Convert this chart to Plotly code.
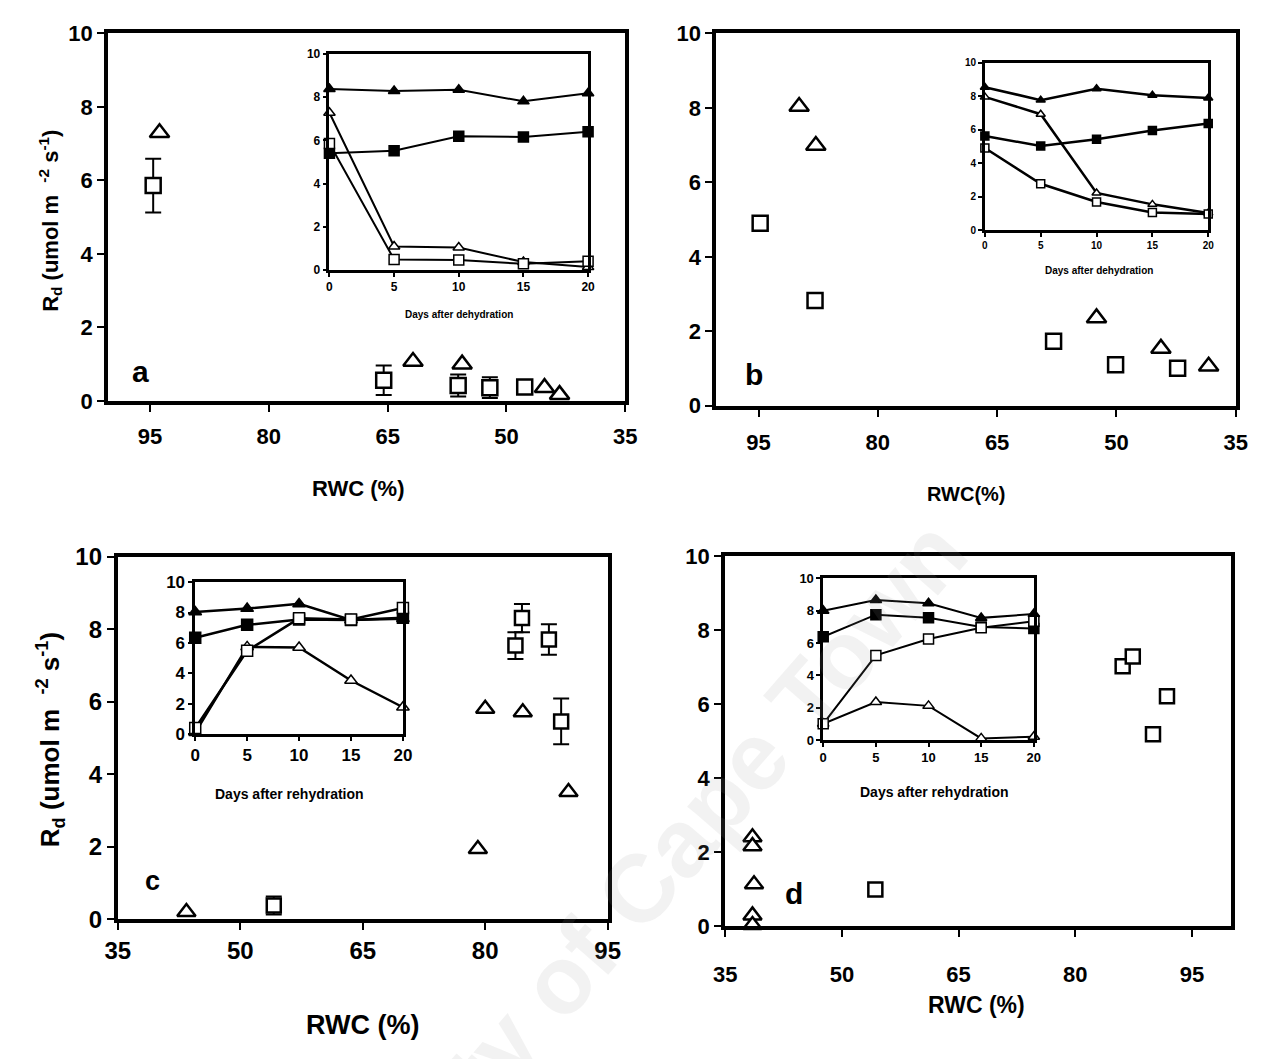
import plotly.graph_objects as go

W, H = 1281, 1059
FONT = "Liberation Sans"

# ---------------- data ----------------
days = [0, 5, 10, 15, 20]

# panel a (dehydration)
a_sq_rwc = [94.6, 65.5, 56.1, 52.1, 47.7]
a_sq_rd = [5.86, 0.56, 0.42, 0.36, 0.38]
a_sq_err = [0.73, 0.40, 0.30, 0.28, 0.0]
a_tri_rwc = [93.8, 61.8, 55.6, 45.2, 43.3]
a_tri_rd = [7.30, 1.07, 1.00, 0.36, 0.17]
a_in_tri_f = [8.38, 8.29, 8.35, 7.81, 8.18]
a_in_sq_f = [5.41, 5.53, 6.20, 6.16, 6.40]
a_in_tri_o = [7.28, 1.10, 1.05, 0.38, 0.15]
a_in_sq_o = [5.86, 0.50, 0.47, 0.30, 0.42]

# panel b (dehydration)
b_sq_rwc = [94.8, 87.9, 57.9, 50.1, 42.3]
b_sq_rd = [4.90, 2.83, 1.73, 1.10, 1.01]
b_tri_rwc = [89.9, 87.8, 52.5, 44.4, 38.4]
b_tri_rd = [8.04, 6.99, 2.36, 1.54, 1.06]
b_in_tri_f = [8.54, 7.77, 8.45, 8.06, 7.90]
b_in_sq_f = [5.63, 5.03, 5.44, 5.96, 6.37]
b_in_tri_o = [7.96, 6.93, 2.23, 1.55, 1.03]
b_in_sq_o = [4.91, 2.78, 1.69, 1.07, 0.97]

# panel c (rehydration)
c_sq_rwc = [54.1, 84.5, 83.7, 87.8, 89.3]
c_sq_rd = [0.38, 8.31, 7.55, 7.72, 5.46]
c_sq_err = [0.25, 0.39, 0.37, 0.42, 0.63]
c_tri_rwc = [43.4, 80.0, 84.6, 90.2, 79.1]
c_tri_rd = [0.20, 5.81, 5.71, 3.51, 1.94]
c_in_tri_f = [8.04, 8.26, 8.57, 7.51, 7.60]
c_in_sq_f = [6.34, 7.19, 7.55, 7.51, 7.66]
c_in_tri_o = [0.10, 5.74, 5.70, 3.53, 1.77]
c_in_sq_o = [0.40, 5.49, 7.62, 7.55, 8.30]

# panel d (rehydration)
d_sq_rwc = [54.3, 86.1, 87.4, 91.8, 90.0]
d_sq_rd = [0.99, 7.02, 7.28, 6.21, 5.18]
d_tri_rwc = [38.5, 38.5, 38.7, 38.5, 38.5]
d_tri_rd = [2.40, 2.16, 1.13, 0.29, 0.03]
d_in_tri_f = [7.99, 8.65, 8.45, 7.55, 7.79]
d_in_sq_f = [6.38, 7.75, 7.55, 6.98, 6.90]
d_in_tri_o = [1.00, 2.35, 2.11, 0.10, 0.20]
d_in_sq_o = [1.00, 5.23, 6.24, 6.94, 7.34]

rwc_ticks = [35, 50, 65, 80, 95]
rd_ticks = [0, 2, 4, 6, 8, 10]
day_ticks = [0, 5, 10, 15, 20]


def px_dom_x(a, b):
    return [a / W, b / W]


def px_dom_y(top, bottom):
    return [1 - bottom / H, 1 - top / H]


fig = go.Figure()


def main_points(xa, ya, sq_x, sq_y, tri_x, tri_y, sq_err=None, msize=17):
    err = None
    if sq_err is not None:
        err = dict(type="data", array=sq_err, color="black", thickness=2, width=8)
    fig.add_trace(go.Scatter(x=sq_x, y=sq_y, mode="markers", xaxis=xa, yaxis=ya,
                             error_y=err, cliponaxis=False,
                             marker=dict(symbol="square", size=msize - 2, color="white",
                                         line=dict(color="black", width=2.5))))
    fig.add_trace(go.Scatter(x=tri_x, y=tri_y, mode="markers", xaxis=xa, yaxis=ya,
                             cliponaxis=False,
                             marker=dict(symbol="triangle-up", size=msize, color="white",
                                         line=dict(color="black", width=2.5))))


def inset_lines(xa, ya, tf, sf, to, so, ms=9, lw=2):
    for vals, sym, col in [(tf, "triangle-up", "black"), (sf, "square", "black"),
                           (to, "triangle-up", "white"), (so, "square", "white")]:
        fig.add_trace(go.Scatter(x=days, y=vals, mode="lines+markers", xaxis=xa, yaxis=ya,
                                 cliponaxis=False,
                                 line=dict(color="black", width=lw),
                                 marker=dict(symbol=sym, size=ms, color=col,
                                             line=dict(color="black", width=1.5))))


main_points("x", "y", a_sq_rwc, a_sq_rd, a_tri_rwc, a_tri_rd, a_sq_err)
inset_lines("x2", "y2", a_in_tri_f, a_in_sq_f, a_in_tri_o, a_in_sq_o, ms=10)
main_points("x3", "y3", b_sq_rwc, b_sq_rd, b_tri_rwc, b_tri_rd)
inset_lines("x4", "y4", b_in_tri_f, b_in_sq_f, b_in_tri_o, b_in_sq_o, ms=8, lw=2.5)
main_points("x5", "y5", c_sq_rwc, c_sq_rd, c_tri_rwc, c_tri_rd, c_sq_err, msize=16)
inset_lines("x6", "y6", c_in_tri_f, c_in_sq_f, c_in_tri_o, c_in_sq_o, ms=11, lw=2.5)
main_points("x7", "y7", d_sq_rwc, d_sq_rd, d_tri_rwc, d_tri_rd, msize=16)
inset_lines("x8", "y8", d_in_tri_f, d_in_sq_f, d_in_tri_o, d_in_sq_o, ms=10, lw=2)


def main_axes(dx, dy, xrange, tsize=22, xstand=0):
    xa = dict(domain=dx, range=xrange, tickvals=rwc_ticks, showline=True, linewidth=4,
              linecolor="black", mirror=True, ticks="outside", ticklen=7, tickwidth=2,
              tickcolor="black", showgrid=False, zeroline=False, ticklabelstandoff=xstand,
              tickfont=dict(family=FONT, size=tsize, color="black", weight="bold"))
    ya = dict(domain=dy, range=[0, 10], tickvals=rd_ticks, showline=True, linewidth=4,
              linecolor="black", mirror=True, ticks="outside", ticklen=7, tickwidth=2,
              tickcolor="black", showgrid=False, zeroline=False,
              tickfont=dict(family=FONT, size=tsize, color="black", weight="bold"))
    return xa, ya


def inset_axes(dx, dy, tsize):
    xa = dict(domain=dx, range=[0, 20], tickvals=day_ticks, showline=True, linewidth=2.5,
              linecolor="black", mirror=True, ticks="outside", ticklen=4, tickwidth=1.5,
              tickcolor="black", showgrid=False, zeroline=False,
              tickfont=dict(family=FONT, size=tsize, color="black", weight="bold"))
    ya = dict(domain=dy, range=[0, 10], tickvals=rd_ticks, showline=True, linewidth=2.5,
              linecolor="black", mirror=True, ticks="outside", ticklen=4, tickwidth=1.5,
              tickcolor="black", showgrid=False, zeroline=False,
              tickfont=dict(family=FONT, size=tsize, color="black", weight="bold"))
    return xa, ya


layout_axes = {}
xa, ya = main_axes(px_dom_x(97, 625), px_dom_y(20, 397), [100.3, 35], xstand=6)
layout_axes["xaxis"], layout_axes["yaxis"] = xa, ya
xa, ya = inset_axes(px_dom_x(323, 587), px_dom_y(41, 263), 12)
xa["anchor"], ya["anchor"] = "y2", "x2"
layout_axes["xaxis2"], layout_axes["yaxis2"] = xa, ya
xa, ya = main_axes(px_dom_x(718, 1248), px_dom_y(20, 402), [100.3, 35], xstand=7)
xa["anchor"], ya["anchor"] = "y3", "x3"
layout_axes["xaxis3"], layout_axes["yaxis3"] = xa, ya
xa, ya = inset_axes(px_dom_x(992, 1220), px_dom_y(50, 222), 10)
xa["anchor"], ya["anchor"] = "y4", "x4"
layout_axes["xaxis4"], layout_axes["yaxis4"] = xa, ya
xa, ya = main_axes(px_dom_x(107, 607), px_dom_y(557, 929), [35, 95], tsize=24)
xa["anchor"], ya["anchor"] = "y5", "x5"
layout_axes["xaxis5"], layout_axes["yaxis5"] = xa, ya
xa, ya = inset_axes(px_dom_x(186, 398), px_dom_y(583, 739), 17)
xa["anchor"], ya["anchor"] = "y6", "x6"
layout_axes["xaxis6"], layout_axes["yaxis6"] = xa, ya
xa, ya = main_axes(px_dom_x(727, 1243), px_dom_y(556, 936), [35, 100], xstand=18)
xa["anchor"], ya["anchor"] = "y7", "x7"
layout_axes["xaxis7"], layout_axes["yaxis7"] = xa, ya
xa, ya = inset_axes(px_dom_x(827, 1042), px_dom_y(579, 745), 13)
xa["anchor"], ya["anchor"] = "y8", "x8"
layout_axes["xaxis8"], layout_axes["yaxis8"] = xa, ya


def ann(text, x, y, size, angle=0, color="black"):
    return dict(text=text, x=x / W, y=1 - y / H, xref="paper", yref="paper",
                showarrow=False, textangle=angle, xanchor="center", yanchor="middle",
                font=dict(family=FONT, size=size, color=color, weight="bold"))


ylab = "R<sub>d</sub> (umol m  <sup>-2</sup> s<sup>-1</sup>)"
annotations = [
    ann("University of Cape Town", 580, 965, 96, angle=-49, color="rgba(150,150,150,0.12)"),
    ann(ylab, 38, 212, 22, angle=-90),
    ann(ylab, 38, 745, 26, angle=-90),
    ann("RWC (%)", 352, 487, 22),
    ann("RWC(%)", 973, 493, 20),
    ann("RWC (%)", 357, 1037, 27),
    ann("RWC (%)", 983, 1017, 23),
    ann("a", 130, 367, 30),
    ann("b", 756, 370, 30),
    ann("c", 142, 890, 27),
    ann("d", 797, 902, 30),
    ann("Days after dehydration", 455, 308, 10),
    ann("Days after dehydration", 1108, 263, 10),
    ann("Days after rehydration", 282, 800, 14),
    ann("Days after rehydration", 941, 798, 14),
]

fig.update_layout(
    width=W, height=H, margin=dict(l=0, r=0, t=0, b=0),
    paper_bgcolor="white", plot_bgcolor="white", showlegend=False,
    annotations=annotations, **layout_axes,
)

fig.write_html("out.html")
